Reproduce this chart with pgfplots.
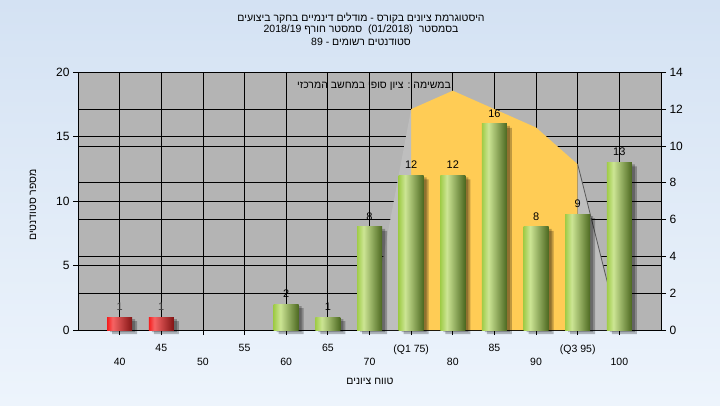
\documentclass[border=0pt]{standalone}
\usepackage{fontspec}
\setmainfont{Liberation Sans}
\newfontfamily\heb[Script=Hebrew]{Liberation Sans}
\TeXXeTstate=1
\usepackage{pgfplots}
\pgfplotsset{compat=1.18}
\definecolor{bgtop}{RGB}{212,226,243}
\definecolor{bgbot}{RGB}{237,244,252}
\definecolor{plotgray}{RGB}{180,180,180}
\definecolor{areaor}{RGB}{255,204,85}
\definecolor{areagr}{RGB}{190,190,190}
\definecolor{gL}{RGB}{160,204,72}
\definecolor{gM}{RGB}{204,229,148}
\definecolor{gD}{RGB}{76,104,32}
\definecolor{rL}{RGB}{245,30,30}
\definecolor{rM}{RGB}{246,100,100}
\definecolor{rD}{RGB}{130,20,20}
\pgfdeclarehorizontalshading{greenbar}{100bp}{color(0bp)=(gL); color(25bp)=(gL); color(38bp)=(gM); color(75bp)=(gD); color(100bp)=(gD)}
\pgfdeclarehorizontalshading{redbar}{100bp}{color(0bp)=(rL); color(25bp)=(rL); color(36bp)=(rM); color(75bp)=(rD); color(100bp)=(rD)}
\pgfplotsset{
  common/.style={
    at={(78pt,75pt)}, anchor=south west, scale only axis,
    width=583pt, height=257.7pt, xmin=-1, xmax=13,
    grid style={black, line width=0.8pt},
    tick align=outside, major tick length=5pt,
    tick style={black, line width=0.8pt},
    axis line style={-, black, line width=0.8pt},
    /pgf/number format/assume math mode=true,
  },
  barbase/.style={ybar, bar shift=0pt, bar width=25pt, draw=none},
  shadowA/.style={barbase, fill=black, opacity=0.25, transform canvas={xshift=5pt,yshift=-4pt}},
  shadowB/.style={barbase, fill=black, opacity=0.25, transform canvas={xshift=3pt,yshift=-2pt}},
  gbar/.style={barbase, shade, shading=greenbar, nodes near coords,
    nodes near coords style={font=\fontsize{11}{13}\selectfont, text=black, yshift=3pt}},
  rbar/.style={barbase, shade, shading=redbar, nodes near coords,
    nodes near coords style={font=\fontsize{11}{13}\selectfont, text=black!75, yshift=3pt}},
}
\begin{document}
\begin{tikzpicture}[x=1pt,y=1pt]
\shade[top color=bgtop, bottom color=bgbot] (0,0) rectangle (720,405);
\path[use as bounding box] (0,0) rectangle (720,405);
% axis 1: left scale, background, grids
\begin{axis}[common,
  ymin=0, ymax=20,
  axis background/.style={fill=plotgray},
  axis y line*=left, axis x line*=bottom,
  xtick={0,2,...,12}, xticklabels={40,50,60,70,80,90,100},
  extra x ticks={1,3,...,11},
  extra x tick labels={45,55,65,(Q1 75),85,(Q3 95)},
  extra x tick style={grid=major, xticklabel style={yshift=14pt}},
  ytick={0,5,...,20},
  xmajorgrids, ymajorgrids,
  xticklabel style={font=\fontsize{10.5}{12}\selectfont, yshift=-20pt},
  yticklabel style={font=\fontsize{12}{14}\selectfont},
]
\end{axis}
% axis 2: right scale, area
\begin{axis}[common,
  ymin=0, ymax=14,
  axis y line*=right, axis x line=none,
  ytick={0,2,...,14}, ymajorgrids,
  yticklabel style={font=\fontsize{12}{14}\selectfont},
]
\addplot[fill=areaor, draw=none] coordinates {(7,0)(7,12)(8,13)(9,12)(10,11)(11,9)(11,0)} -- cycle;
\addplot[fill=areagr, draw=none] coordinates {(6,0)(7,12)(7,0)} -- cycle;
\addplot[fill=areagr, draw=none] coordinates {(11,0)(11,9)(12,0)} -- cycle;
\addplot[draw=black!65, line width=0.8pt] coordinates {(11,9)(12,0)};
\end{axis}
% axis 3: bars
\begin{axis}[common,
  ymin=0, ymax=20, hide axis, clip=false,
]
\addplot[shadowA] coordinates {(0,1)(1,1)(4,2)(5,1)(6,8)(7,12)(8,12)(9,16)(10,8)(11,9)(12,13)};
\addplot[shadowB] coordinates {(0,1)(1,1)(4,2)(5,1)(6,8)(7,12)(8,12)(9,16)(10,8)(11,9)(12,13)};
\addplot[rbar] coordinates {(0,1)};
\addplot[rbar] coordinates {(1,1)};
\addplot[gbar] coordinates {(4,2)};
\addplot[gbar] coordinates {(5,1)};
\addplot[gbar] coordinates {(6,8)};
\addplot[gbar] coordinates {(7,12)};
\addplot[gbar] coordinates {(8,12)};
\addplot[gbar] coordinates {(9,16)};
\addplot[gbar] coordinates {(10,8)};
\addplot[gbar] coordinates {(11,9)};
\addplot[gbar] coordinates {(12,13)};
\end{axis}
% texts
\node[font=\fontsize{10.5}{12}\selectfont\heb] at (361,387) {\beginR היסטוגרמת ציונים בקורס - מודלים דינמיים בחקר ביצועים\endR};
\node[font=\fontsize{10.5}{12}\selectfont\heb] at (361,375) {\beginR בסמסטר \ \beginL(01/2018)\endL{}\ \ סמסטר חורף \beginL 2018/19\endL\endR};
\node[font=\fontsize{10.5}{12}\selectfont\heb] at (361,363) {\beginR סטודנטים רשומים - \beginL89\endL\endR};
\node[font=\fontsize{10.5}{12}\selectfont\heb] at (374,319) {\beginR במשימה : ציון סופי במחשב המרכזי\endR};
\node[font=\fontsize{10.5}{12}\selectfont\heb, rotate=90] at (33,200) {\beginR מספר סטודנטים\endR};
\node[font=\fontsize{10.5}{12}\selectfont\heb] at (370,24) {\beginR טווח ציונים\endR};
\end{tikzpicture}
\end{document}
